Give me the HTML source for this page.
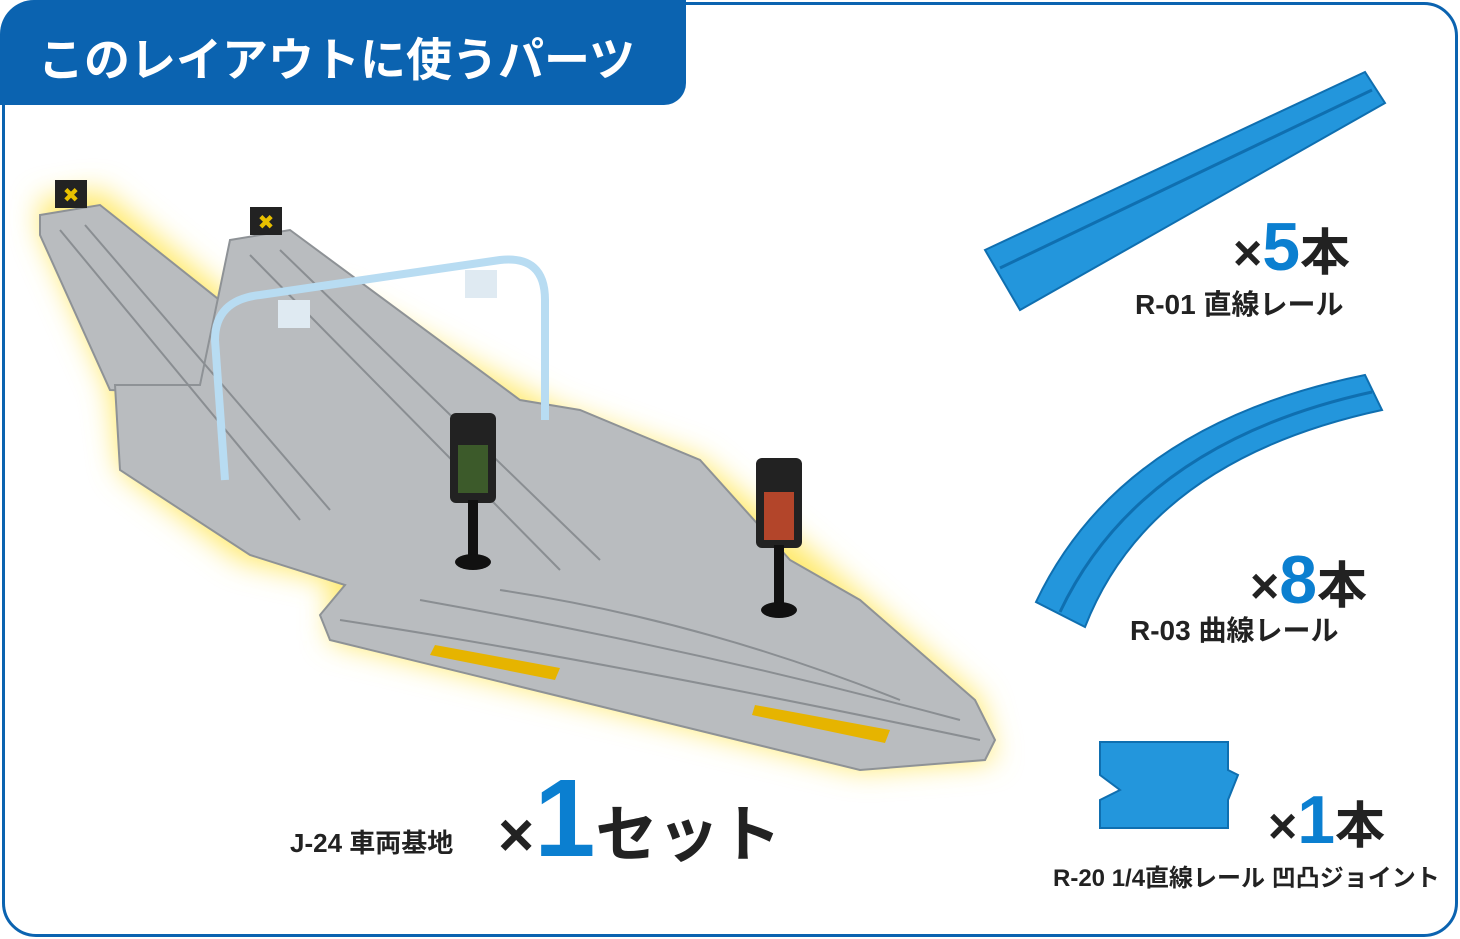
<!DOCTYPE html>
<html><head><meta charset="utf-8"><style>
body{margin:0;width:1460px;height:939px;background:#fff;overflow:hidden;position:relative;font-family:"Liberation Sans","Noto Sans CJK JP",sans-serif;}
.frame{position:absolute;left:2px;top:2px;width:1450px;height:929px;border:3px solid #0b63b0;border-radius:34px;}
.tab{position:absolute;left:0;top:0;width:686px;height:105px;background:#0b63b0;border-radius:34px 0 22px 0;}
.tab span{position:absolute;left:38px;top:24px;color:#fff;font-size:46px;font-weight:bold;white-space:nowrap;}
.t{position:absolute;font-weight:bold;color:#222;white-space:nowrap;}
.b{color:#0b7fd0;}
</style></head><body>
<div class="frame"></div>
<div class="tab"><span>このレイアウトに使うパーツ</span></div>
<svg width="1460" height="939" style="position:absolute;left:0;top:0">
<defs><filter id="g" x="-20%" y="-20%" width="140%" height="140%"><feGaussianBlur stdDeviation="14"/></filter></defs>
<g filter="url(#g)" fill="#ffe96a">
<polygon points="40,200 100,190 330,380 330,290 560,410 700,460 820,560 980,700 995,760 860,770 330,640 330,580 240,560 120,470 110,390 40,230"/>
</g>
<g fill="#b9bcbf" stroke="#8e9296" stroke-width="2">
<polygon points="40,215 100,205 320,380 265,395 110,390 40,235"/>
<polygon points="230,240 290,230 520,400 580,410 700,460 790,560 860,600 975,700 995,740 985,760 860,770 330,640 320,615 345,585 250,555 120,470 115,385 200,385"/>
</g>
<g stroke="#8a8e92" stroke-width="2" fill="none">
<path d="M60,230 L300,520"/><path d="M85,225 L330,510"/><path d="M250,255 L560,570"/><path d="M280,250 L600,560"/>
<path d="M340,620 Q600,660 980,740"/><path d="M420,600 Q700,650 960,720"/><path d="M500,590 Q700,620 900,700"/>
</g>
<rect x="55" y="180" width="32" height="28" fill="#222"/><rect x="250" y="207" width="32" height="28" fill="#222"/>
<text x="71" y="202" font-size="20" fill="#e8c000" text-anchor="middle">✖</text>
<text x="266" y="229" font-size="20" fill="#e8c000" text-anchor="middle">✖</text>
<g fill="none" stroke="#b8dcf2" stroke-width="8">
<path d="M225,480 L215,340 Q215,300 260,295 L500,260 Q545,255 545,300 L545,420"/>
</g>
<rect x="278" y="300" width="32" height="28" fill="#dfeaf2"/><rect x="465" y="270" width="32" height="28" fill="#dfeaf2"/>
<g fill="#e6b400"><polygon points="435,645 560,668 555,680 430,655"/><polygon points="755,705 890,730 885,743 752,715"/></g>
<rect x="450" y="413" width="46" height="90" rx="6" fill="#222"/><rect x="458" y="445" width="30" height="48" fill="#3c5a2a"/>
<rect x="468" y="500" width="10" height="55" fill="#111"/><ellipse cx="473" cy="562" rx="18" ry="8" fill="#111"/>
<rect x="756" y="458" width="46" height="90" rx="6" fill="#222"/><rect x="764" y="492" width="30" height="48" fill="#b3452a"/>
<rect x="774" y="545" width="10" height="58" fill="#111"/><ellipse cx="779" cy="610" rx="18" ry="8" fill="#111"/>
<polygon points="985,250 1365,72 1385,103 1020,310" fill="#2396dc" stroke="#0f6fb0" stroke-width="2"/>
<path d="M1000,268 L1372,90" stroke="#0f6fb0" stroke-width="3"/>
<path d="M1036,602 Q1120,425 1365,375 L1382,410 Q1150,460 1085,627 Z" fill="#2396dc" stroke="#0f6fb0" stroke-width="2"/>
<path d="M1060,612 Q1140,443 1372,392" fill="none" stroke="#0f6fb0" stroke-width="3"/>
<polygon points="1100,742 1228,742 1228,770 1238,775 1228,800 1228,828 1100,828 1100,800 1120,790 1100,775" fill="#2396dc" stroke="#0f6fb0" stroke-width="2"/>
</svg>
<div class="t" style="left:1233px;top:208px;font-size:50px;">×<span class="b" style="font-size:68px;">5</span>本</div>
<div class="t" style="left:1135px;top:283px;font-size:28px;">R-01 直線レール</div>
<div class="t" style="left:1250px;top:541px;font-size:50px;">×<span class="b" style="font-size:68px;">8</span>本</div>
<div class="t" style="left:1130px;top:609px;font-size:28px;">R-03 曲線レール</div>
<div class="t" style="left:1268px;top:781px;font-size:50px;">×<span class="b" style="font-size:68px;">1</span>本</div>
<div class="t" style="left:1053px;top:858px;font-size:24px;">R-20 1/4直線レール 凹凸ジョイント</div>
<div class="t" style="left:290px;top:823px;font-size:26px;">J-24 車両基地</div>
<div class="t" style="left:498px;top:755px;font-size:62px;">×<span class="b" style="font-size:110px;">1</span>セット</div>
</body></html>
